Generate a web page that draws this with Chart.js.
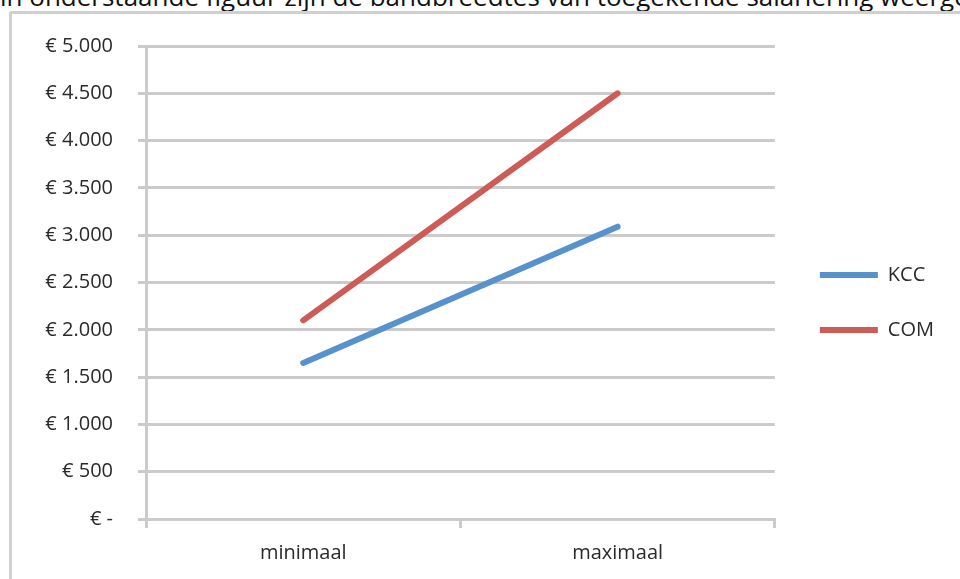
<!DOCTYPE html>
<html>
<head>
<meta charset="utf-8">
<script src="https://cdn.jsdelivr.net/npm/chart.js@4"></script>
<style>
  body { margin: 0; background: #fff; overflow: hidden; width: 960px; height: 579px; position: relative; }
  #intro { position: absolute; left: 0; top: -17px; font: 26px/26px "Open Sans", sans-serif; color: #111; white-space: nowrap; }
  #frame { position: absolute; left: 9px; top: 11px; width: 1000px; height: 600px; border-left: 3px solid #d0d0d0; border-top: 3px solid #d0d0d0; border-top-left-radius: 3px; }
  #chart { position: absolute; left: 0; top: 0; }
</style>
</head>
<body>
<div id="intro">in onderstaande figuur zijn de bandbreedtes van toegekende salariëring weergegeven.</div>
<div id="frame"></div>
<canvas id="chart" width="960" height="579"></canvas>
<script>
// categories and series
const categories = ['minimaal', 'maximaal'];
const kccValues = [1650, 3090];
const comValues = [2100, 4500];

// y axis tick labels, from 0 to 5000 in steps of 500
const yTickLabels = ['€ -', '€ 500', '€ 1.000', '€ 1.500', '€ 2.000', '€ 2.500', '€ 3.000', '€ 3.500', '€ 4.000', '€ 4.500', '€ 5.000'];

const gridColor = '#cbcbcb';
const textColor = '#2a2a2a';
const font = { family: '"Open Sans", sans-serif', size: 20 };

// move the legend a bit like in the excel chart
const legendShift = {
    id: 'legendShift',
    afterLayout(chart) {
        const lg = chart.legend;
        lg.left += 10;
        lg.right += 10;
        lg.top -= 10;
        lg.bottom -= 10;
    }
};

const ctx = document.getElementById('chart').getContext('2d');
const chart = new Chart(ctx, {
    type: 'line',
    data: {
        labels: categories,
        datasets: [{
            label: 'KCC',
            data: kccValues,
            borderColor: '#5792cc',
            backgroundColor: '#5792cc',
            borderWidth: 6,
            borderCapStyle: 'round',
            pointRadius: 0,
            tension: 0
        }, {
            label: 'COM',
            data: comValues,
            borderColor: '#cc5c55',
            backgroundColor: '#cc5c55',
            borderWidth: 6,
            borderCapStyle: 'round',
            pointRadius: 0,
            tension: 0
        }]
    },
    options: {
        responsive: false,
        animation: false,
        layout: { padding: { top: 46, bottom: 0, left: 0, right: 26 } },
        scales: {
            x: {
                offset: true,
                grid: { drawOnChartArea: false, drawTicks: true, tickLength: 9, color: gridColor, lineWidth: 3, offset: true },
                border: { color: gridColor, width: 3 },
                ticks: { color: textColor, font: font, padding: 13, maxRotation: 0 },
                afterFit: scale => { scale.height = 60; }
            },
            y: {
                min: 0,
                max: 5000,
                ticks: {
                    stepSize: 500,
                    color: textColor,
                    font: font,
                    padding: 25,
                    callback: (value, index) => yTickLabels[index]
                },
                grid: { color: gridColor, lineWidth: 3, tickLength: 8 },
                border: { color: gridColor, width: 3 },
                afterFit: scale => { scale.width = 146; }
            }
        },
        plugins: {
            legend: {
                position: 'right',
                labels: {
                    usePointStyle: true,
                    pointStyle: 'line',
                    pointStyleWidth: 58,
                    color: textColor,
                    font: font,
                    padding: 35
                }
            },
            tooltip: { enabled: false }
        }
    },
    plugins: [legendShift]
});
</script>
</body>
</html>
